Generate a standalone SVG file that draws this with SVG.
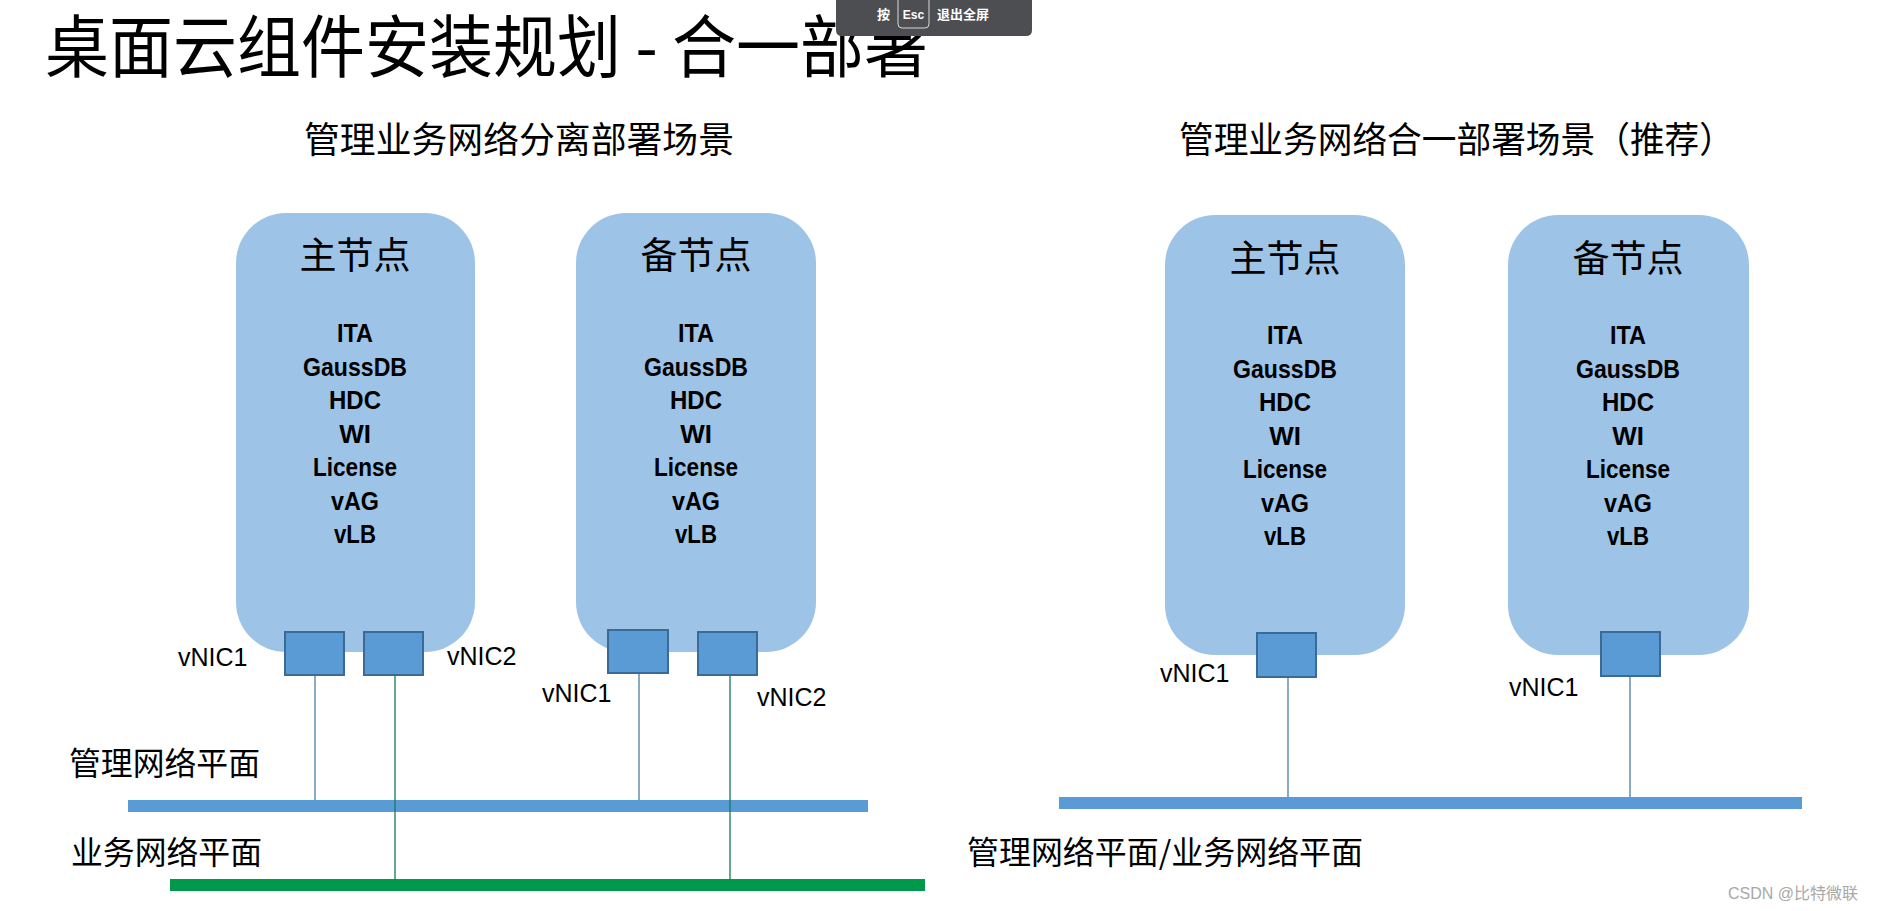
<svg xmlns="http://www.w3.org/2000/svg" width="1877" height="911" viewBox="0 0 1877 911">
<style>
.cjk{font-family:"Noto Sans CJK SC","Noto Sans",sans-serif;fill:#000}
.node{fill:#9DC3E6}
.nic{fill:#5B9BD5;stroke:#3A6A96;stroke-width:2}
.comp{font-family:"Liberation Sans",Arial,sans-serif;font-weight:bold;font-size:26px;text-anchor:middle;fill:#000}
.lbl{font-family:"Liberation Sans",Arial,sans-serif;font-size:25px;fill:#000}
.ntitle{font-family:"Noto Sans CJK SC",sans-serif;font-size:37px;text-anchor:middle;fill:#000}
.mline{stroke:#4A7FA2;stroke-width:1.3;fill:none}
.sline{stroke:#157A5C;stroke-width:1.3;fill:none}
</style>
<defs>
<g id="comps">
<text class="comp" x="0" y="0" textLength="36" lengthAdjust="spacingAndGlyphs">ITA</text>
<text class="comp" x="0" y="33.5" textLength="104" lengthAdjust="spacingAndGlyphs">GaussDB</text>
<text class="comp" x="0" y="67" textLength="52" lengthAdjust="spacingAndGlyphs">HDC</text>
<text class="comp" x="0" y="100.5">WI</text>
<text class="comp" x="0" y="134" textLength="84" lengthAdjust="spacingAndGlyphs">License</text>
<text class="comp" x="0" y="167.5" textLength="48" lengthAdjust="spacingAndGlyphs">vAG</text>
<text class="comp" x="0" y="201" textLength="42" lengthAdjust="spacingAndGlyphs">vLB</text>
</g>
</defs>
<rect width="1877" height="911" fill="#fff"/>
<text class="cjk" x="45" y="72" font-size="68" textLength="883" lengthAdjust="spacingAndGlyphs">桌面云组件安装规划 - 合一部署</text>
<text class="cjk" x="304" y="153" font-size="36" textLength="430" lengthAdjust="spacingAndGlyphs">管理业务网络分离部署场景</text>
<text class="cjk" x="1179" y="153" font-size="36" textLength="555" lengthAdjust="spacingAndGlyphs">管理业务网络合一部署场景（推荐）</text>

<g id="bars">
<rect x="128" y="800" width="740" height="12" fill="#5B9BD5"/>
<rect x="170" y="879" width="755" height="12" fill="#00994C"/>
<rect x="1059" y="797" width="743" height="12" fill="#5B9BD5"/>
</g>

<g id="connectors">
<line class="mline" x1="315" y1="675" x2="315" y2="800"/>
<line class="sline" x1="395" y1="675" x2="395" y2="880"/>
<line class="mline" x1="639" y1="673" x2="639" y2="800"/>
<line class="sline" x1="730" y1="675" x2="730" y2="880"/>
<line class="mline" x1="1288" y1="677" x2="1288" y2="797"/>
<line class="mline" x1="1630" y1="677" x2="1630" y2="797"/>
</g>

<g id="left-main">
<rect class="node" x="236" y="213" width="239" height="439" rx="50"/>
<text class="ntitle" x="355" y="269">主节点</text>
<use href="#comps" x="355" y="342"/>
<rect class="nic" x="285" y="632" width="59" height="43"/>
<rect class="nic" x="364" y="632" width="59" height="43"/>
</g>

<g id="left-backup">
<rect class="node" x="576" y="213" width="240" height="439" rx="50"/>
<text class="ntitle" x="696" y="269">备节点</text>
<use href="#comps" x="696" y="342"/>
<rect class="nic" x="608" y="630" width="60" height="43"/>
<rect class="nic" x="698" y="632" width="59" height="43"/>
</g>

<g id="right-main">
<rect class="node" x="1165" y="215" width="240" height="440" rx="50"/>
<text class="ntitle" x="1285" y="272">主节点</text>
<use href="#comps" x="1285" y="344"/>
<rect class="nic" x="1257" y="633" width="59" height="44"/>
</g>

<g id="right-backup">
<rect class="node" x="1508" y="215" width="241" height="440" rx="50"/>
<text class="ntitle" x="1628" y="272">备节点</text>
<use href="#comps" x="1628" y="344"/>
<rect class="nic" x="1601" y="632" width="59" height="44"/>
</g>

<g id="labels">
<text class="lbl" x="178" y="666">vNIC1</text>
<text class="lbl" x="447" y="665">vNIC2</text>
<text class="lbl" x="542" y="702">vNIC1</text>
<text class="lbl" x="757" y="706">vNIC2</text>
<text class="lbl" x="1160" y="682">vNIC1</text>
<text class="lbl" x="1509" y="696">vNIC1</text>
<text class="cjk" x="69" y="775" font-size="32" textLength="191" lengthAdjust="spacingAndGlyphs">管理网络平面</text>
<text class="cjk" x="71" y="864" font-size="32" textLength="191" lengthAdjust="spacingAndGlyphs">业务网络平面</text>
<text class="cjk" x="967" y="864" font-size="32" textLength="396" lengthAdjust="spacingAndGlyphs">管理网络平面/业务网络平面</text>
</g>

<g id="watermark">
<text x="1728" y="899" font-family="Liberation Sans,Noto Sans CJK SC,sans-serif" font-size="16" fill="#A8A8A8">CSDN @比特微联</text>
</g>

<g id="esc-overlay">
<path d="M836 0 H1032 V30 Q1032 36 1026 36 H842 Q836 36 836 30 Z" fill="#4D4E52"/>
<rect x="898" y="-4" width="31" height="32" rx="4" fill="none" stroke="#D8D8D8" stroke-width="1"/>
<text x="877" y="19" font-family="Noto Sans CJK SC,sans-serif" font-size="13" font-weight="bold" fill="#fff">按</text>
<text x="913.5" y="19" font-family="Liberation Sans,sans-serif" font-size="12" font-weight="bold" fill="#fff" text-anchor="middle">Esc</text>
<text x="937" y="19" font-family="Noto Sans CJK SC,sans-serif" font-size="13" font-weight="bold" fill="#fff">退出全屏</text>
</g>
</svg>
